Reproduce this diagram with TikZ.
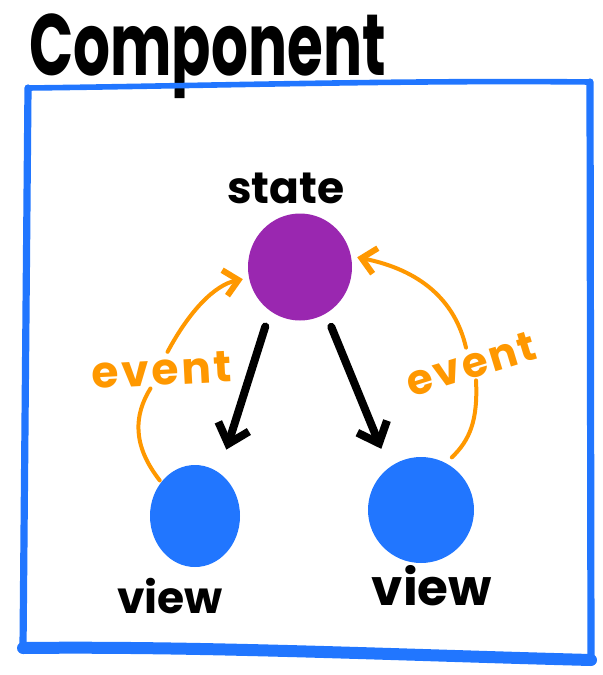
\documentclass[tikz,border=0pt]{standalone}
\usepackage{fontspec}
\setmainfont{Poppins}
\newfontfamily\evfont{Poppins}[LetterSpace=6]
\usetikzlibrary{shapes.geometric,arrows.meta}
\definecolor{boxblue}{HTML}{2176FF}
\definecolor{statepurple}{HTML}{9A27B0}
\definecolor{evorange}{HTML}{FF9800}
\tikzset{
  blob/.style={ellipse, inner sep=0pt},
  lbl/.style={font=\bfseries, inner sep=1pt},
  frame/.style={boxblue, line cap=round, line join=round},
  flow/.style={line width=4pt, line cap=round, line join=round,
    -{Straight Barb[length=9pt,width=16pt,line width=4pt]}},
  evline/.style={evorange, line width=2pt, line cap=round},
  evarrow/.style={evline, -{Straight Barb[length=7pt,width=13pt,line width=3pt]}},
}
\begin{document}
\begin{tikzpicture}[x=0.5pt,y=-0.5pt]
\useasboundingbox (0,0) rectangle (602,675);

% title
\node[lbl, anchor=base west, font=\bfseries\fontsize{29}{34}\selectfont, yscale=1.5] (title) at (27,75) {Component};

% component frame, one stroke per side
\coordinate (tl) at (28,88);
\coordinate (tr) at (590,82);
\coordinate (br) at (591,660);
\coordinate (bl) at (23,648);
\draw[frame, line width=2.8pt] (tl) .. controls (200,86) and (400,80) .. (tr);
\draw[frame, line width=3.6pt] (tr) -- (br);
\draw[frame, line width=6pt] (br) .. controls (400,655) and (200,646) .. (bl);
\draw[frame, line width=3.6pt] (bl) -- (tl);

% state and views
\node[blob, fill=statepurple, minimum width=52pt, minimum height=53.5pt] (state) at (300,267) {};
\node[blob, fill=boxblue, minimum width=45pt, minimum height=51pt] (viewL) at (195,516) {};
\node[blob, fill=boxblue, minimum width=53pt, minimum height=53pt] (viewR) at (421,510) {};

\node[lbl, font=\bfseries\fontsize{22}{26}\selectfont] (stateL) at (286,188) {state};
\node[lbl, font=\bfseries\fontsize{22}{26}\selectfont] (viewLL) at (170,596) {view};
\node[lbl, font=\bfseries\fontsize{25}{30}\selectfont] (viewRL) at (432,586) {view};

% event labels
\node[lbl, evorange, font=\evfont\bfseries\fontsize{22}{26}\selectfont, rotate=3] (eventL) at (162,370) {event};
\node[lbl, evorange, font=\evfont\bfseries\fontsize{21}{25}\selectfont, rotate=17] (eventR) at (471,364) {event};

% state renders the views
\draw[flow, shorten <=8pt, shorten >=12pt] (state.236) -- (viewL.61);
\draw[flow, shorten <=7pt, shorten >=10pt] (state.299) -- (viewR.127);

% events flow back up to the state
\draw[evline, shorten <=1pt] (viewL.135) .. controls (132,445) and (134,415) .. (eventL.235);
\draw[evarrow, shorten >=3pt] (eventL.70) .. controls (190,310) and (215,285) .. (state.192);
\draw[evline, shorten >=4pt] (eventR.south) .. controls (478,420) and (470,440) .. (viewR.62);
\draw[evarrow, shorten >=3pt] (eventR.north) .. controls (455,300) and (420,270) .. (state.12);
\end{tikzpicture}
\end{document}
